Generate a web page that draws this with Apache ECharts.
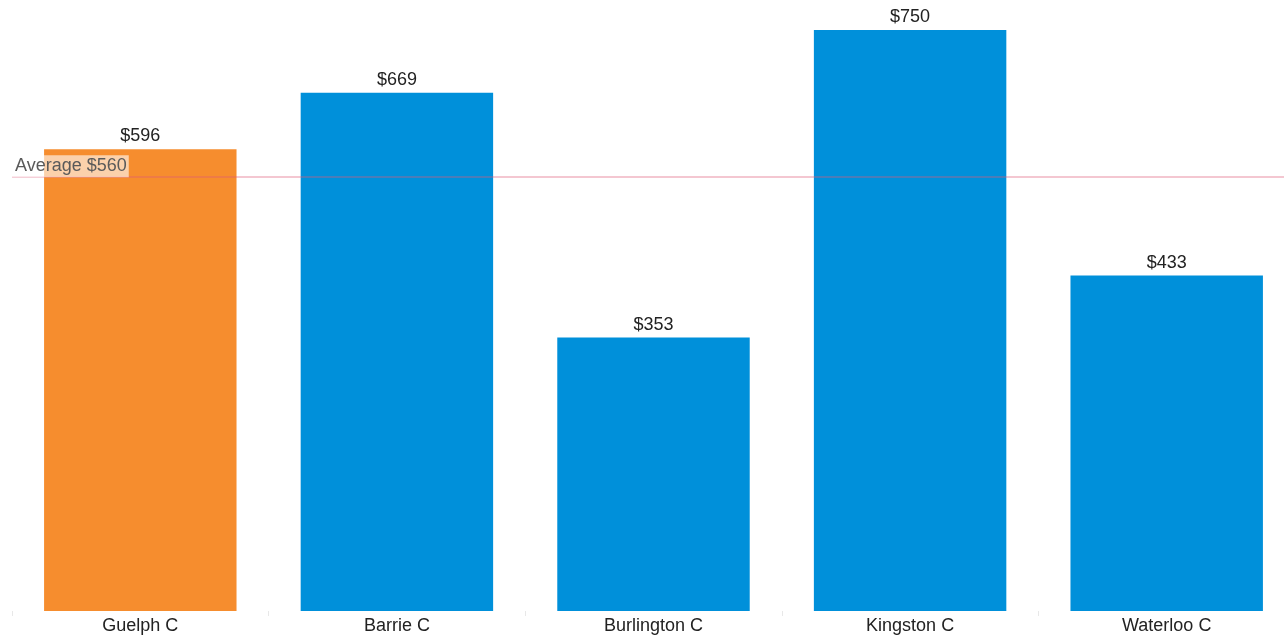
<!DOCTYPE html>
<html>
<head>
<meta charset="utf-8">
<script src="https://cdn.jsdelivr.net/npm/echarts@6/dist/echarts.min.js"></script>
<style>
  html, body { margin: 0; padding: 0; background: #fff; overflow: hidden; }
  #wrap { width: 1284px; height: 636px; overflow: hidden; }
  #chart { width: 1295px; height: 636px; }
</style>
</head>
<body>
<div id="wrap"><div id="chart"></div></div>
<script>
// Average rent by city
const categories = ['Guelph C', 'Barrie C', 'Burlington C', 'Kingston C', 'Waterloo C'];
const values = [596, 669, 353, 750, 433];
const barColors = ['#F68D2E', '#0090DA', '#0090DA', '#0090DA', '#0090DA'];
const averageValue = 560;
const averageLabel = 'Average $560';

const chart = echarts.init(document.getElementById('chart'), null, { renderer: 'canvas' });

const font = 'Liberation Sans, Arial, sans-serif';

chart.setOption({
  animation: false,
  grid: { left: 12, right: 0, top: 30, bottom: 25, containLabel: false },
  xAxis: {
    type: 'category',
    data: categories,
    axisLine: { show: false },
    axisTick: { show: true, length: 5, lineStyle: { color: '#e8e8e8' } },
    axisLabel: { color: '#222', fontSize: 18, fontFamily: font, margin: 6 }
  },
  yAxis: {
    type: 'value',
    min: 0,
    max: 750,
    show: false,
    splitLine: { show: false }
  },
  series: [{
    type: 'bar',
    barWidth: '75%',
    data: values.map((v, i) => ({ value: v, itemStyle: { color: barColors[i] } })),
    label: {
      show: true,
      position: 'top',
      distance: 4,
      formatter: p => '$' + p.value,
      color: '#222',
      fontSize: 18,
      fontFamily: font
    },
    markLine: {
      silent: true,
      symbol: 'none',
      z: 10,
      data: [{ yAxis: averageValue }],
      lineStyle: { color: 'rgba(225, 90, 120, 0.45)', width: 1.5, type: 'solid' },
      label: {
        show: true,
        position: 'insideStartTop',
        distance: [0, 0],
        formatter: averageLabel,
        color: '#5a5a5a',
        fontSize: 18,
        fontFamily: font,
        backgroundColor: 'rgba(255,255,255,0.6)',
        padding: [2, 2, 2, 3]
      },
      emphasis: { disabled: true }
    }
  }]
});
</script>
</body>
</html>
